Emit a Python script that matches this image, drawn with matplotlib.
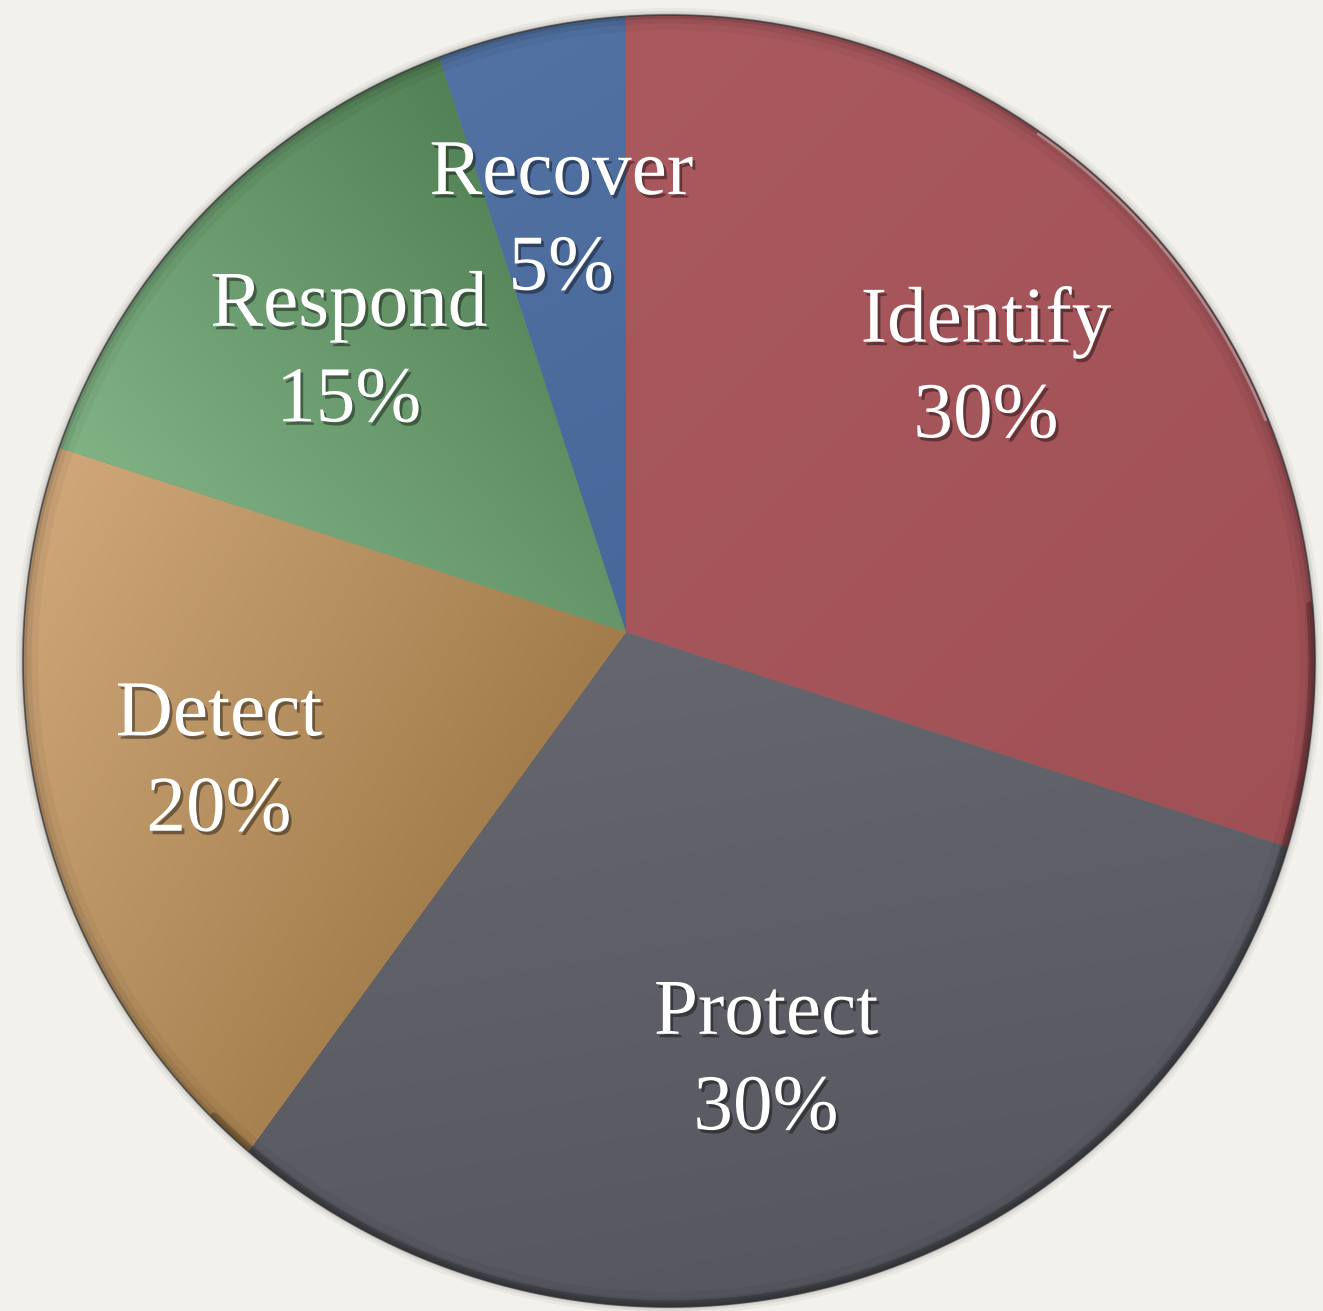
import numpy as np
import matplotlib.pyplot as plt
import matplotlib.patheffects as pe
from matplotlib.colors import LinearSegmentedColormap
from matplotlib.path import Path
from matplotlib.patches import PathPatch, Circle

# chart data
names = ['Identify', 'Protect', 'Detect', 'Respond', 'Recover']
shares = [30, 30, 20, 15, 5]
# per-slice colour pairs (dark end, light end) and the direction the light comes from
dark = ['#9f5055', '#55565d', '#a27d4b', '#4d7b50', '#48679a']
light = ['#ab5b60', '#66676e', '#dcb387', '#88bb8d', '#5475a5']
light_dir = [135, 100, 150, 220, 120]
# how far from the slice apex each label sits (px)
label_r = [445, 453, 428, 392, 414]

bg = '#f3f1ec'
W, H = 1323, 1311
apex = (626, H - 632)      # where the slices meet
disc = (669, H - 661)      # centre of the visible disc
disc_r = 646

fig = plt.figure(figsize=(W / 100, H / 100), dpi=100, facecolor=bg)
ax = fig.add_axes([0, 0, 1, 1])
ax.set_facecolor(bg)

labels = [f'{n}\n{s}%' for n, s in zip(names, shares)]
R = 760
wedges, texts = ax.pie(shares, labels=labels, colors=dark, startangle=90,
                       counterclock=False, radius=R, center=apex,
                       labeldistance=0.572, frame=True,
                       wedgeprops=dict(linewidth=0))

# gradient fill for each slice
for w, d, l, a in zip(wedges, dark, light, light_dir):
    cm = LinearSegmentedColormap.from_list('s', [d, l])
    xs = np.linspace(apex[0] - R, apex[0] + R, 300)
    ys = np.linspace(apex[1] - R, apex[1] + R, 300)
    X, Y = np.meshgrid(xs, ys)
    t = np.deg2rad(a)
    proj = X * np.cos(t) + Y * np.sin(t)
    v = w.get_path().vertices
    vp = v[:, 0] * np.cos(t) + v[:, 1] * np.sin(t)
    g = np.clip((proj - vp.min()) / (vp.max() - vp.min()), 0, 1)
    im = ax.imshow(g, cmap=cm, extent=(xs[0], xs[-1], ys[0], ys[-1]),
                   origin='lower', interpolation='bilinear', zorder=1.5)
    im.set_clip_path(w)

# paper mask with a round hole so only the disc shows
th = np.linspace(0, 2 * np.pi, 721)[::-1]
hole = np.column_stack([disc[0] + disc_r * np.cos(th), disc[1] + disc_r * np.sin(th)])
rect = np.array([[-10, -10], [W + 10, -10], [W + 10, H + 10], [-10, H + 10], [-10, -10]])
verts = np.vstack([rect, hole])
codes = ([Path.MOVETO] + [Path.LINETO] * 3 + [Path.CLOSEPOLY]
         + [Path.MOVETO] + [Path.LINETO] * (len(hole) - 2) + [Path.CLOSEPOLY])
ax.add_patch(PathPatch(Path(verts, codes), facecolor=bg, edgecolor='none', zorder=3))

# rim of the disc: soft inner shade, darker on the lower right, highlight top right
for lw, al in [(16, 0.04), (9, 0.06), (4, 0.10)]:
    ax.add_patch(Circle(disc, disc_r - lw / 4, fill=False, lw=lw,
                        edgecolor='black', alpha=al, zorder=3.5))


def rim(t1, t2, inset, **kw):
    tt = np.deg2rad(np.linspace(t1, t2, 200))
    ax.plot(disc[0] + (disc_r - inset) * np.cos(tt),
            disc[1] + (disc_r - inset) * np.sin(tt),
            solid_capstyle='round', zorder=3.55, **kw)


rim(-135, 5, 3, lw=5, color='black', alpha=0.22)
rim(22, 55, 2.5, lw=2, color='white', alpha=0.35)
ax.add_patch(Circle(disc, disc_r, fill=False, lw=1.2, edgecolor='#2e2e30',
                    alpha=0.7, zorder=3.6))

for t, w, r in zip(texts, wedges, label_r):
    mid = np.deg2rad((w.theta1 + w.theta2) / 2)
    t.set_position((apex[0] + r * np.cos(mid), apex[1] + r * np.sin(mid)))
    t.set_ha('center')
    t.set_va('center')
    t.set_fontfamily('Liberation Serif')
    t.set_fontsize(57)
    t.set_color('white')
    t.set_linespacing(1.44)
    t.set_zorder(5)
    t.set_path_effects([pe.SimplePatchShadow(offset=(2, -2.5), alpha=0.4,
                                             shadow_rgbFace='black'),
                        pe.Normal()])

ax.set_xlim(0, W)
ax.set_ylim(0, H)
ax.set_aspect('auto')
ax.set_axis_off()

fig.savefig('out.png', dpi=100, facecolor=bg)
plt.close(fig)
